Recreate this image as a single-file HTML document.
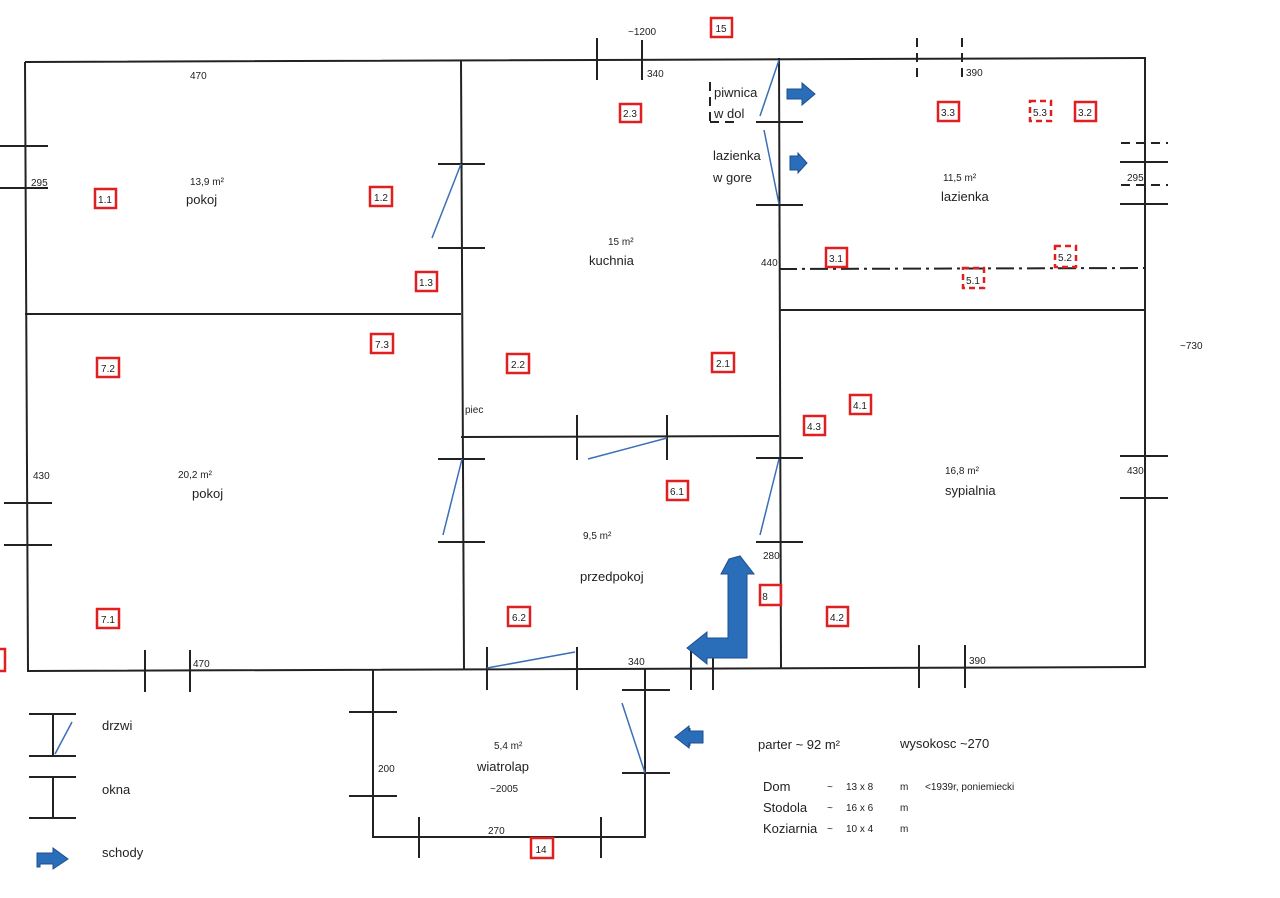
<!DOCTYPE html>
<html><head><meta charset="utf-8"><style>
html,body{margin:0;padding:0;background:#fff;width:1280px;height:898px;overflow:hidden}
svg{display:block}
text{font-family:"Liberation Sans",sans-serif;fill:#222}
</style></head><body>
<svg width="1280" height="898" viewBox="0 0 1280 898">
<g stroke="#222" stroke-width="2" fill="none">
<!-- outer walls -->
<polyline points="25,62 1145,58 1145,667 28,671 25,62"/>
<line x1="461" y1="60" x2="464" y2="669"/>
<line x1="779" y1="58" x2="781" y2="668"/>
<line x1="25" y1="314" x2="461" y2="314"/>
<line x1="461" y1="437" x2="779" y2="436"/>
<line x1="779" y1="310" x2="1145" y2="310"/>
<polyline points="373,670 373,837 645,837 645,669"/>
<!-- window/door ticks -->
<line x1="597" y1="38" x2="597" y2="80"/><line x1="642" y1="40" x2="642" y2="80"/>
<line x1="0" y1="146" x2="48" y2="146"/><line x1="0" y1="188" x2="48" y2="188"/>
<line x1="438" y1="164" x2="485" y2="164"/><line x1="438" y1="248" x2="485" y2="248"/>
<line x1="756" y1="122" x2="803" y2="122"/><line x1="756" y1="205" x2="803" y2="205"/>
<line x1="1120" y1="162" x2="1168" y2="162"/><line x1="1120" y1="204" x2="1168" y2="204"/>
<line x1="4" y1="503" x2="52" y2="503"/><line x1="4" y1="545" x2="52" y2="545"/>
<line x1="438" y1="459" x2="485" y2="459"/><line x1="438" y1="542" x2="485" y2="542"/>
<line x1="577" y1="415" x2="577" y2="460"/><line x1="667" y1="415" x2="667" y2="460"/>
<line x1="756" y1="458" x2="803" y2="458"/><line x1="756" y1="542" x2="803" y2="542"/>
<line x1="1120" y1="456" x2="1168" y2="456"/><line x1="1120" y1="498" x2="1168" y2="498"/>
<line x1="145" y1="650" x2="145" y2="692"/><line x1="190" y1="650" x2="190" y2="692"/>
<line x1="487" y1="647" x2="487" y2="690"/><line x1="577" y1="647" x2="577" y2="690"/>
<line x1="691" y1="648" x2="691" y2="690"/><line x1="713" y1="648" x2="713" y2="690"/>
<line x1="919" y1="645" x2="919" y2="688"/><line x1="965" y1="645" x2="965" y2="688"/>
<line x1="622" y1="690" x2="670" y2="690"/><line x1="622" y1="773" x2="670" y2="773"/>
<line x1="349" y1="712" x2="397" y2="712"/><line x1="349" y1="796" x2="397" y2="796"/>
<line x1="419" y1="817" x2="419" y2="858"/><line x1="601" y1="817" x2="601" y2="858"/>
<!-- legend -->
<line x1="29" y1="714" x2="76" y2="714"/><line x1="29" y1="756" x2="76" y2="756"/><line x1="53" y1="714" x2="53" y2="756"/>
<line x1="29" y1="777" x2="76" y2="777"/><line x1="29" y1="818" x2="76" y2="818"/><line x1="53" y1="777" x2="53" y2="818"/>
</g>
<g stroke="#222" stroke-width="2" fill="none" stroke-dasharray="9,6">
<line x1="917" y1="38" x2="917" y2="78"/><line x1="962" y1="38" x2="962" y2="78"/>
<line x1="1121" y1="143" x2="1168" y2="143"/><line x1="1121" y1="185" x2="1168" y2="185"/>
<line x1="710" y1="82" x2="710" y2="122"/><line x1="710" y1="122" x2="735" y2="122"/>
</g>
<line x1="779" y1="269" x2="1145" y2="268" stroke="#222" stroke-width="2" stroke-dasharray="18,5,3,5"/>
<!-- door swings -->
<g stroke="#3a6fb5" stroke-width="1.5">
<line x1="432" y1="238" x2="461" y2="164"/>
<line x1="760" y1="116" x2="779" y2="60"/>
<line x1="764" y1="130" x2="779" y2="204"/>
<line x1="588" y1="459" x2="667" y2="438"/>
<line x1="443" y1="535" x2="462" y2="459"/>
<line x1="760" y1="535" x2="779" y2="459"/>
<line x1="487" y1="668" x2="575" y2="652"/>
<line x1="622" y1="703" x2="645" y2="773"/>
<line x1="55" y1="754" x2="72" y2="722"/>
</g>
<!-- arrows -->
<g fill="#2a6db8" stroke="#1d4f8f" stroke-width="1">
<path d="M787,89 L802,89 L802,83 L815,94 L802,105 L802,99 L787,99Z"/>
<path d="M790,156 L798,156 L798,153 L807,163 L798,173 L798,170 L790,170Z"/>
<path d="M690,730 L675,737 L690,745 Z M690,730 L690,728 L689,747 L690,745Z"/>
<path d="M675,737 L689,726 L689,731 L703,731 L703,743 L689,743 L689,748Z"/>
<path d="M729,559 L740,556 L754,574 L747,574 L747,658 L707,658 L707,664 L687,648 L707,632 L707,638 L728,638 L728,574 L721,574Z"/>
<path d="M37,853 L53,853 L53,848 L68,859 L53,869 L53,864 L40,864 L40,867 L37,867Z"/>
</g>
<!-- red boxes -->
<g fill="none" stroke="#e02020" stroke-width="2.5">
<rect x="711" y="18" width="21" height="19"/>
<rect x="620" y="104" width="21" height="18"/>
<rect x="938" y="102" width="21" height="19"/>
<rect x="1075" y="102" width="21" height="19"/>
<rect x="95" y="189" width="21" height="19"/>
<rect x="370" y="187" width="22" height="19"/>
<rect x="416" y="272" width="21" height="19"/>
<rect x="826" y="248" width="21" height="19"/>
<rect x="371" y="334" width="22" height="19"/>
<rect x="97" y="358" width="22" height="19"/>
<rect x="507" y="354" width="22" height="19"/>
<rect x="712" y="353" width="22" height="19"/>
<rect x="850" y="395" width="21" height="19"/>
<rect x="804" y="416" width="21" height="19"/>
<rect x="667" y="481" width="21" height="19"/>
<rect x="760" y="585" width="21" height="20"/>
<rect x="508" y="607" width="22" height="19"/>
<rect x="827" y="607" width="21" height="19"/>
<rect x="97" y="609" width="22" height="19"/>
<rect x="531" y="838" width="22" height="20"/>
<rect x="-6" y="649" width="11" height="22"/>
</g>
<g fill="none" stroke="#e02020" stroke-width="2.5" stroke-dasharray="6,4">
<rect x="1030" y="101" width="21" height="20"/>
<rect x="963" y="268" width="21" height="20"/>
<rect x="1055" y="246" width="21" height="21"/>
</g>
<g font-size="10" text-anchor="middle">
<text x="721" y="32">15</text><text x="630" y="117">2.3</text><text x="948" y="116">3.3</text>
<text x="1040" y="116">5.3</text><text x="1085" y="116">3.2</text><text x="105" y="203">1.1</text>
<text x="381" y="201">1.2</text><text x="426" y="286">1.3</text><text x="836" y="262">3.1</text>
<text x="973" y="284">5.1</text><text x="1065" y="261">5.2</text><text x="382" y="348">7.3</text>
<text x="108" y="372">7.2</text><text x="518" y="368">2.2</text><text x="723" y="367">2.1</text>
<text x="860" y="409">4.1</text><text x="814" y="430">4.3</text><text x="677" y="495">6.1</text>
<text x="765" y="600">8</text><text x="519" y="621">6.2</text><text x="837" y="621">4.2</text>
<text x="108" y="623">7.1</text><text x="541" y="853">14</text>
</g>
<g font-size="10">
<text x="628" y="35">~1200</text><text x="190" y="79">470</text><text x="647" y="77">340</text>
<text x="966" y="76">390</text><text x="31" y="186">295</text><text x="1127" y="181">295</text>
<text x="761" y="266">440</text><text x="1180" y="349">~730</text><text x="465" y="413">piec</text>
<text x="33" y="479">430</text><text x="1127" y="474">430</text><text x="763" y="559">280</text>
<text x="193" y="667">470</text><text x="628" y="665">340</text><text x="969" y="664">390</text>
<text x="378" y="772">200</text><text x="488" y="834">270</text>
<text x="190" y="185">13,9  m²</text><text x="608" y="245">15  m²</text><text x="943" y="181">11,5  m²</text>
<text x="178" y="478">20,2  m²</text><text x="945" y="474">16,8  m²</text><text x="583" y="539">9,5  m²</text>
<text x="494" y="749">5,4  m²</text><text x="490" y="792">~2005</text>
<text x="827" y="790">~</text><text x="827" y="811">~</text><text x="827" y="832">~</text>
<text x="846" y="790">13 x 8</text><text x="846" y="811">16 x 6</text><text x="846" y="832">10 x 4</text>
<text x="900" y="790">m</text><text x="900" y="811">m</text><text x="900" y="832">m</text>
<text x="925" y="790">&lt;1939r, poniemiecki</text>
</g>
<g font-size="13">
<text x="186" y="204">pokoj</text><text x="589" y="265">kuchnia</text><text x="941" y="201">lazienka</text>
<text x="192" y="498">pokoj</text><text x="945" y="495">sypialnia</text><text x="580" y="581">przedpokoj</text>
<text x="477" y="771">wiatrolap</text>
<text x="714" y="97">piwnica</text><text x="714" y="118">w dol</text>
<text x="713" y="160">lazienka</text><text x="713" y="182">w gore</text>
<text x="102" y="730">drzwi</text><text x="102" y="794">okna</text><text x="102" y="857">schody</text>
<text x="758" y="749">parter ~  92  m²</text><text x="900" y="748">wysokosc ~270</text>
<text x="763" y="791">Dom</text><text x="763" y="812">Stodola</text><text x="763" y="833">Koziarnia</text>
</g>
</svg>
</body></html>
